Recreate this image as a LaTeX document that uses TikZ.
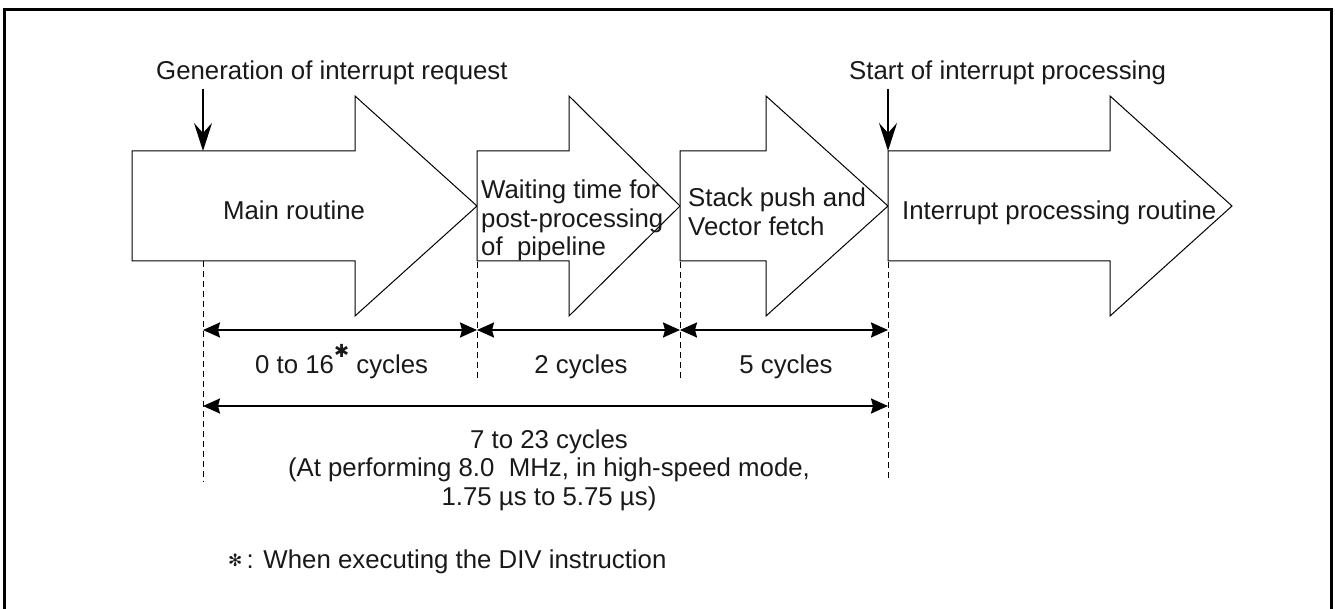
\documentclass[tikz,border=0pt]{standalone}
\usepackage{fontspec}
\setmainfont{Liberation Sans}
\newfontfamily\djv{DejaVu Sans}
\usetikzlibrary{arrows.meta}
\newcommand\BlkArrow[3]{\draw[blockarrow] (#1,151) -- (#2,151) -- (#2,96) -- (#3,206) -- (#2,316) -- (#2,261) -- (#1,261) -- cycle;}
\begin{document}
\begin{tikzpicture}[x=1pt,y=-1pt,
  blockarrow/.style={draw=black, fill=white, line width=1pt, line join=miter},
  lbl/.style={font=\fontsize{25.8}{28.5}\selectfont, inner sep=0pt, text=black!90},
  dimline/.style={line width=2pt, {Stealth[length=17pt,width=15pt,inset=2pt]}-{Stealth[length=17pt,width=15pt,inset=2pt]}},
  guide/.style={line width=1pt, dash pattern=on 6pt off 4pt},
  evt/.style={line width=2pt, -{Stealth[length=28pt,width=18pt,inset=10pt]}},
]
\useasboundingbox (0,0) rectangle (1335,609);
\draw[line width=3pt] (4.5,620) -- (4.5,9.5) -- (1331.5,9.5) -- (1331.5,620);

% block arrows
\BlkArrow{132}{355}{477}
\BlkArrow{477}{569}{680}
\BlkArrow{680}{766}{888}
\BlkArrow{888}{1110}{1232}

\node[lbl, anchor=base] (main) at (294,220) {Main routine};
\node[lbl, anchor=base west] (wait) at (481,199) {\begin{tabular}[t]{@{}l@{}}Waiting time for\\post-processing\\of\ \ pipeline\end{tabular}};
\node[lbl, anchor=base west] (stack) at (688,207) {\begin{tabular}[t]{@{}l@{}}Stack push and\\Vector fetch\end{tabular}};
\node[lbl, anchor=base west] (isr) at (902,220) {Interrupt processing routine};

% event labels and arrows
\node[lbl, anchor=base west] (gen) at (156,80) {Generation of interrupt request};
\node[lbl, anchor=base west] (start) at (849,80) {Start of interrupt processing};
\coordinate (g0) at (203,89);
\coordinate (g1) at (203,151);
\coordinate (s0) at (888,89);
\coordinate (s1) at (888,151);
\draw[evt] (g0) -- (g1);
\draw[evt] (s0) -- (s1);

% guide lines
\coordinate (d1t) at (203,261); \coordinate (d1b) at (203,482);
\coordinate (d2t) at (477,262); \coordinate (d2b) at (477,378);
\coordinate (d3t) at (680,262); \coordinate (d3b) at (680,378);
\coordinate (d4t) at (888,262); \coordinate (d4b) at (888,480);
\draw[guide] (d1t) -- (d1b);
\draw[guide] (d2t) -- (d2b);
\draw[guide] (d3t) -- (d3b);
\draw[guide] (d4t) -- (d4b);

% dimension arrows
\coordinate (p1) at (203,330); \coordinate (p2) at (477,330);
\coordinate (p3) at (680,330); \coordinate (p4) at (888,330);
\coordinate (q1) at (203,406); \coordinate (q2) at (888,406);
\draw[dimline] (p1) -- (p2);
\draw[dimline] (p2) -- (p3);
\draw[dimline] (p3) -- (p4);
\draw[dimline] (q1) -- (q2);

\node[lbl, anchor=base west] (c1) at (255,373) {0 to 16\raisebox{16pt}{\djv\fontsize{18}{18}\selectfont ✱} cycles};
\node[lbl, anchor=base] (c2) at (581,373) {2 cycles};
\node[lbl, anchor=base] (c3) at (786,373) {5 cycles};
\node[lbl, anchor=base] (tot) at (549,448) {\begin{tabular}[t]{@{}c@{}}7 to 23 cycles\\(At performing 8.0\ \ MHz, in high-speed mode,\\1.75 µs to 5.75 µs)\end{tabular}};

\node[lbl, anchor=base west] (note) at (228,568) {\raisebox{2pt}{\djv\fontsize{17}{17}\selectfont ✻}\,: When executing the DIV instruction};
\end{tikzpicture}
\end{document}
